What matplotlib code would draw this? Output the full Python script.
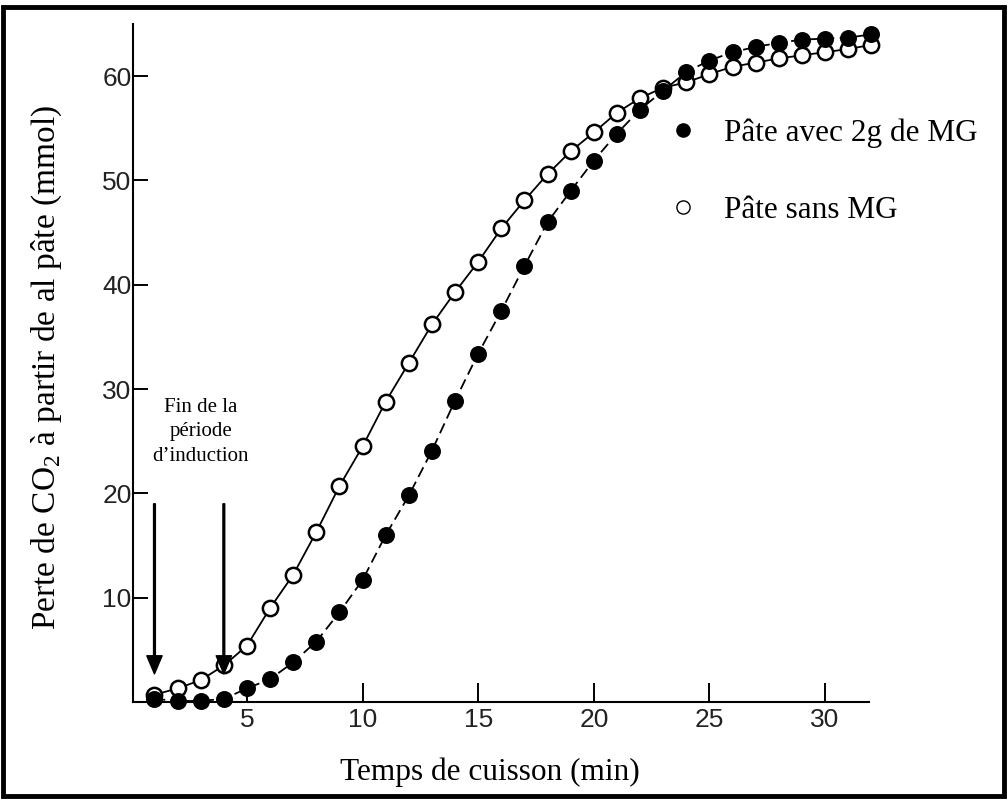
import numpy as np
import matplotlib
matplotlib.use('Agg')
import matplotlib.pyplot as plt
from matplotlib.lines import Line2D
from matplotlib.patches import Rectangle

# temps de cuisson (min)
temps = np.arange(1, 33)

# perte de CO2 (mmol)
avec_mg = [0.3, 0.1, 0.1, 0.3, 1.3, 2.2, 3.8, 5.8, 8.6, 11.7,
           16.0, 19.8, 24.1, 28.9, 33.4, 37.5, 41.8, 46.0, 49.0, 51.9,
           54.5, 56.8, 58.6, 60.4, 61.5, 62.3, 62.8, 63.2, 63.5, 63.6,
           63.7, 64.0]
sans_mg = [0.7, 1.3, 2.1, 3.5, 5.4, 9.0, 12.2, 16.3, 20.7, 24.5,
           28.8, 32.5, 36.2, 39.3, 42.2, 45.4, 48.1, 50.6, 52.8, 54.6,
           56.5, 57.9, 58.9, 59.4, 60.2, 60.9, 61.3, 61.7, 62.0, 62.3,
           62.6, 63.0]

xticks = [5, 10, 15, 20, 25, 30]
yticks = [10, 20, 30, 40, 50, 60]
fleches_x = [1, 4]

plt.rcParams['mathtext.fontset'] = 'custom'
plt.rcParams['mathtext.rm'] = 'Liberation Serif'
serif = 'Liberation Serif'

fig = plt.figure(figsize=(10.08, 8), dpi=100)
ax = fig.add_axes([0.1319, 0.1225, 0.7302, 0.8475])

ax.plot(temps, sans_mg, color='k', lw=1.3, marker='o', ms=11,
        mfc='white', mec='k', mew=1.8, clip_on=False, zorder=3)
ax.plot(temps, avec_mg, color='k', lw=1.3, ls=(0, (6, 3)), marker='o', ms=11,
        mfc='k', mec='k', mew=1.2, clip_on=False, zorder=4)

ax.set_xlim(0.07, 31.9)
ax.set_ylim(0, 65)
ax.set_xticks(xticks)
ax.set_yticks(yticks)
ax.tick_params(axis='x', direction='in', length=14, width=1.4, pad=4,
               labelsize=19, labelcolor='#222')
ax.tick_params(axis='y', direction='in', length=11, width=1.4, pad=1,
               labelsize=19, labelcolor='#222')
for lab in ax.get_xticklabels() + ax.get_yticklabels():
    lab.set_family('Liberation Sans')
for s in ['top', 'right']:
    ax.spines[s].set_visible(False)
for s in ['left', 'bottom']:
    ax.spines[s].set_linewidth(1.5)

ax.set_xlabel('Temps de cuisson (min)', family=serif, fontsize=22.5)
ax.xaxis.set_label_coords(0.485, -0.082)
ax.set_ylabel('Perte de CO$_2$ à partir de al pâte (mmol)', family=serif, fontsize=24)
ax.yaxis.set_label_coords(-0.094, 0.493)

# fin de la période d'induction
for fx in fleches_x:
    ax.annotate('', xy=(fx, 2.7), xytext=(fx, 19.0),
                arrowprops=dict(facecolor='k', edgecolor='k', width=1.3,
                                headwidth=11, headlength=13, shrink=0))
ax.text(3.0, 25.9, 'Fin de la\npériode\nd’induction', family=serif,
        fontsize=15, ha='center', va='center', linespacing=1.4)

h_avec = Line2D([], [], ls='none', marker='o', ms=9.5, mfc='k', mec='k')
h_sans = Line2D([], [], ls='none', marker='o', ms=9.5, mfc='white', mec='k', mew=1.0)
ax.legend([h_avec, h_sans], ['Pâte avec 2g de MG', 'Pâte sans MG'],
          loc='upper left', bbox_to_anchor=(0.662, 0.8525),
          bbox_transform=fig.transFigure, frameon=False,
          prop={'family': serif, 'size': 22.5}, handlelength=1.0,
          handletextpad=0.8, labelspacing=1.56, borderpad=0, borderaxespad=0)

fig.patches.append(Rectangle((0.003, 0.005), 0.993, 0.986, transform=fig.transFigure,
                             fill=False, lw=3.5, edgecolor='k'))

fig.savefig('out.png', dpi=100)
